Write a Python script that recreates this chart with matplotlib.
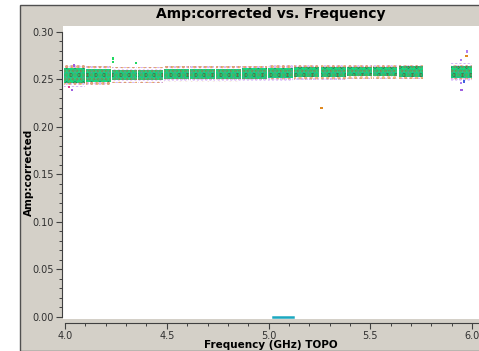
import matplotlib
matplotlib.use('Agg')
import matplotlib.pyplot as plt
import matplotlib.ticker as mtick
from matplotlib.patches import Rectangle

# spectral windows (GHz) and their amplitude level
spw_lo = [3.995, 4.103, 4.232, 4.357, 4.488, 4.615, 4.742, 4.871,
          4.999, 5.127, 5.256, 5.384, 5.512, 5.641, 5.895]
spw_hi = [4.098, 4.225, 4.352, 4.480, 4.611, 4.737, 4.863, 4.994,
          5.122, 5.250, 5.379, 5.507, 5.631, 5.761, 5.998]
amp_mid = [0.2535, 0.2540, 0.2545, 0.2545, 0.2555, 0.2555, 0.2555, 0.2560,
           0.2565, 0.2575, 0.2575, 0.2580, 0.2580, 0.2580, 0.2575]
amp_half = [0.0080, 0.0065, 0.0055, 0.0055, 0.0055, 0.0055, 0.0055, 0.0055,
            0.0055, 0.0055, 0.0055, 0.0050, 0.0050, 0.0055, 0.0065]

# isolated points
out_freq = [4.236, 4.237, 4.350, 4.033, 4.020, 4.045, 5.261, 5.975, 5.972,
            5.945, 5.945, 5.949, 5.960]
out_amp = [0.272, 0.268, 0.267, 0.2386, 0.242, 0.2645, 0.2200, 0.279, 0.2744,
           0.270, 0.2457, 0.2386, 0.2474]
out_col = ['#20d860', '#20d860', '#20d860', '#a060e0', '#e04090', '#a060e0',
           '#e08a20', '#b080f0', '#e08a20', '#b080f0', '#b080f0', '#a060e0',
           '#4060e0']

# zero-amplitude channels
zero_freq = [5.02, 5.04, 5.06, 5.08, 5.10, 5.12]
zero_amp = [0.0, 0.0, 0.0, 0.0, 0.0, 0.0]

plt.rcParams['hatch.linewidth'] = 1.5

fig = plt.figure(figsize=(4.79, 3.51), dpi=100)
fig.patch.set_facecolor('white')
fig.patches.append(Rectangle((20 / 479, 0), 1, 1 - 5 / 351, transform=fig.transFigure,
                             facecolor='#d4d0c8', edgecolor='#505050', lw=1.0, zorder=-10))
ax = fig.add_axes([63 / 479, 1 - 319 / 351, 1 - 63 / 479, 293 / 351])
ax.set_facecolor('white')

widths = [h - l for l, h in zip(spw_lo, spw_hi)]
bottoms = [m - h for m, h in zip(amp_mid, amp_half)]
heights = [2 * h for h in amp_half]

# outer fuzz of the cloud: sparse speckles
fuzz_b = [m - 1.5 * h for m, h in zip(amp_mid, amp_half)]
fuzz_h = [3.0 * h for h in amp_half]
for col, hatch in [('#b070f0', '....'), ('#e08a20', '...')]:
    ax.bar(spw_lo, fuzz_h, width=widths, bottom=fuzz_b, align='edge',
           fill=False, hatch=hatch, edgecolor=col, lw=0, zorder=2, alpha=0.6)

# dense core
ax.bar(spw_lo, heights, width=widths, bottom=bottoms, align='edge',
       color='#2ad66e', lw=0, zorder=3)
for col, hatch in [('#e040a0', '...'), ('#7050e0', '..'), ('#1aa8a0', '.....'),
                   ('#202020', '..'), ('#e03a30', '....'), ('#00f080', '......')]:
    ax.bar(spw_lo, heights, width=widths, bottom=bottoms, align='edge',
           fill=False, hatch=hatch, edgecolor=col, lw=0, zorder=4)

ax.scatter(out_freq, out_amp, c=out_col, s=3, marker='s', lw=0, zorder=5)
ax.plot(zero_freq, zero_amp, color='#1ba8c0', lw=1.8, zorder=5, clip_on=False)

ax.set_xlim(3.990, 6.034)
ax.set_ylim(-0.0024, 0.306)

for side in ['top', 'right']:
    ax.spines[side].set_visible(False)
ax.spines['left'].set_bounds(0, 0.30)
ax.spines['bottom'].set_bounds(4.0, 6.034)
ax.spines['left'].set_position(('outward', 1))
ax.spines['bottom'].set_position(('outward', 3))
for side in ['left', 'bottom']:
    ax.spines[side].set_color('#404040')
    ax.spines[side].set_linewidth(0.8)

ax.xaxis.set_major_locator(mtick.MultipleLocator(0.5))
ax.xaxis.set_minor_locator(mtick.MultipleLocator(0.1))
ax.yaxis.set_major_locator(mtick.MultipleLocator(0.05))
ax.yaxis.set_minor_locator(mtick.MultipleLocator(0.01))
ax.xaxis.set_major_formatter(mtick.FormatStrFormatter('%.1f'))
ax.yaxis.set_major_formatter(mtick.FormatStrFormatter('%.2f'))
ax.tick_params(which='major', length=4, width=0.8, color='#404040',
               labelsize=7, labelcolor='#303030', pad=1.5)
ax.tick_params(which='minor', length=2.5, width=0.7, color='#404040')

ax.set_title('Amp:corrected vs. Frequency', fontsize=10, fontweight='bold', pad=6)
ax.set_xlabel('Frequency (GHz) TOPO', fontsize=7.5, fontweight='bold', labelpad=-0.5)
ax.set_ylabel('Amp:corrected', fontsize=7.5, fontweight='bold', labelpad=-1)

fig.savefig('out.png', dpi=100, facecolor=fig.get_facecolor())
